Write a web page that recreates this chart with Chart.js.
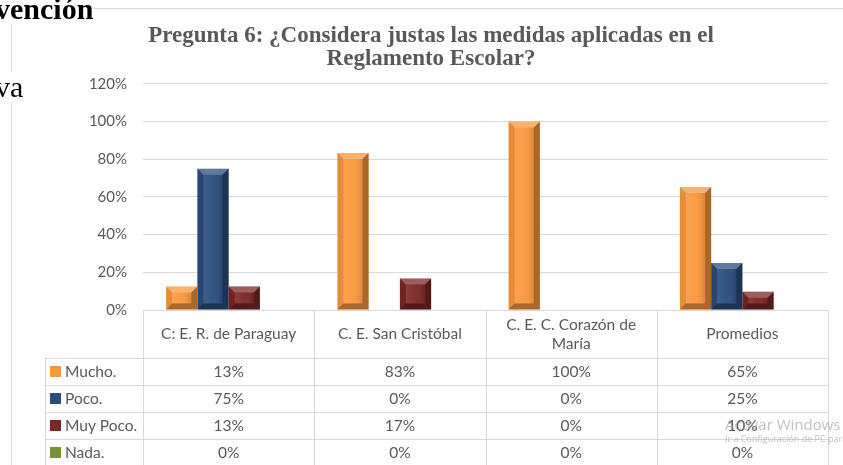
<!DOCTYPE html>
<html>
<head>
<meta charset="utf-8">
<script src="https://cdn.jsdelivr.net/npm/chart.js@4/dist/chart.umd.min.js"></script>
<style>
  html, body { margin: 0; padding: 0; background: #fff; }
  #page { position: relative; width: 843px; height: 465px; overflow: hidden; }
  #frame { position: absolute; left: 11px; top: 8px; width: 900px; height: 500px; border: 1px solid #d9d9d9; }
  #chart { position: absolute; left: 0; top: 0; }
  .doc { position: absolute; font-family: "Liberation Serif", serif; font-size: 30px; line-height: 1; color: #000; background: #fff; }
  .wm { position: absolute; font-family: "Open Sans", sans-serif; color: rgba(140, 140, 140, 0.55); white-space: nowrap; }
</style>
</head>
<body>
<div id="page">
  <div id="frame"></div>
  <canvas id="chart" width="843" height="465"></canvas>
  <span class="doc" style="left:-5px; top:-6px; font-weight:bold;">vención</span>
  <span class="doc" style="left:-5px; top:72px;">va</span>
  <span class="wm" style="left:725px; top:414px; font-size:15px;">Activar Windows</span>
  <span class="wm" style="left:725px; top:432px; font-size:9px;">Ir a Configuración de PC para activar Windows.</span>
</div>
<script>
// datos de la pregunta 6
const categories = ['C: E. R. de Paraguay', 'C. E. San Cristóbal', ['C. E. C. Corazón de', 'María'], 'Promedios'];
const seriesNames = ['Mucho.', 'Poco.', 'Muy Poco.', 'Nada.'];
const mucho = [12.5, 83.33, 100, 65.28];
const poco = [75, 0, 0, 25];
const muyPoco = [12.5, 16.67, 0, 9.72];
const nada = [0, 0, 0, 0];
const yTicks = [0, 20, 40, 60, 80, 100, 120];

const colors = ['#f9983e', '#2c4c7b', '#7a2727', '#77933c'];
const values = [mucho, poco, muyPoco, nada];
const textColor = '#595959';
const lineColor = '#d9d9d9';

// bisel tipo Excel encima de cada barra
const bevelPlugin = {
  id: 'bevel',
  afterDatasetsDraw(chart) {
    const ctx = chart.ctx;
    ctx.save();
    chart.data.datasets.forEach((ds, i) => {
      chart.getDatasetMeta(i).data.forEach(bar => {
        const { x, y, base, width } = bar.getProps(['x', 'y', 'base', 'width'], true);
        const h = base - y;
        if (h < 1) return;
        const l = x - width / 2, r = x + width / 2;
        const b = Math.min(6, h / 2, width / 2);
        const poly = (pts, fill) => {
          ctx.beginPath();
          ctx.moveTo(pts[0][0], pts[0][1]);
          pts.slice(1).forEach(p => ctx.lineTo(p[0], p[1]));
          ctx.closePath();
          ctx.fillStyle = fill;
          ctx.fill();
        };
        const g = ctx.createLinearGradient(l + b, 0, r - b, 0);
        g.addColorStop(0, 'rgba(255,255,255,0.10)');
        g.addColorStop(0.5, 'rgba(255,255,255,0.04)');
        g.addColorStop(1, 'rgba(0,0,0,0.12)');
        ctx.fillStyle = g;
        ctx.fillRect(l + b, y + b, width - 2 * b, h - 2 * b);
        poly([[l, y], [r, y], [r - b, y + b], [l + b, y + b]], 'rgba(255,255,255,0.25)');
        poly([[l, y], [l + b, y + b], [l + b, base - b], [l, base]], 'rgba(0,0,0,0.08)');
        poly([[r, y], [r - b, y + b], [r - b, base - b], [r, base]], 'rgba(0,0,0,0.32)');
        poly([[l, base], [l + b, base - b], [r - b, base - b], [r, base]], 'rgba(0,0,0,0.32)');
      });
    });
    ctx.restore();
  }
};

// tabla de datos bajo el gráfico
const tablePlugin = {
  id: 'dataTable',
  afterDraw(chart) {
    const { ctx, chartArea } = chart;
    const x = chart.scales.x;
    const n = categories.length;
    const colW = (chartArea.right - chartArea.left) / n;
    const top = Math.round(chartArea.bottom) + 0.5;
    const headerH = 47, rowH = 27, legendLeft = 45.5;
    const tableBottom = top + headerH + rowH * seriesNames.length;
    const left = Math.round(chartArea.left) + 0.5;
    const right = Math.round(chartArea.right) + 0.5;

    ctx.save();
    ctx.strokeStyle = lineColor;
    ctx.lineWidth = 1;
    ctx.beginPath();
    ctx.moveTo(left, top); ctx.lineTo(right, top);
    for (let r = 0; r <= seriesNames.length; r++) {
      const yy = Math.round(top + headerH + r * rowH) + 0.5;
      ctx.moveTo(legendLeft, yy); ctx.lineTo(right, yy);
    }
    ctx.moveTo(legendLeft, top + headerH); ctx.lineTo(legendLeft, tableBottom);
    for (let c = 0; c <= n; c++) {
      const xx = Math.round(chartArea.left + c * colW) + 0.5;
      ctx.moveTo(xx, top); ctx.lineTo(xx, tableBottom);
    }
    ctx.stroke();

    ctx.fillStyle = textColor;
    ctx.font = '15.5px Lato';
    ctx.textAlign = 'center';
    ctx.textBaseline = 'middle';
    categories.forEach((cat, c) => {
      const cx = x.getPixelForValue(c);
      const lines = Array.isArray(cat) ? cat : [cat];
      const lh = 19;
      const y0 = top + headerH / 2 - (lines.length - 1) * lh / 2;
      lines.forEach((t, k) => ctx.fillText(t, cx, y0 + k * lh));
    });

    seriesNames.forEach((name, r) => {
      const cy = top + headerH + r * rowH + rowH / 2;
      ctx.fillStyle = colors[r];
      ctx.fillRect(50, cy - 5, 11, 11);
      ctx.fillStyle = textColor;
      ctx.textAlign = 'left';
      ctx.fillText(name, 65, cy + 1);
      ctx.textAlign = 'center';
      values[r].forEach((v, c) => ctx.fillText(Math.round(v) + '%', x.getPixelForValue(c), cy + 1));
    });
    ctx.restore();
  }
};

new Chart(document.getElementById('chart'), {
  type: 'bar',
  data: {
    labels: categories,
    datasets: seriesNames.map((name, i) => ({
      label: name,
      data: values[i],
      backgroundColor: colors[i],
      borderWidth: 0,
      categoryPercentage: 0.73,
      barPercentage: 1
    }))
  },
  options: {
    responsive: false,
    devicePixelRatio: 1,
    animation: false,
    layout: { padding: { left: 34, right: 15, top: 0, bottom: 155 } },
    plugins: {
      legend: { display: false },
      tooltip: { enabled: false },
      title: {
        display: true,
        text: ['Pregunta 6: ¿Considera justas las medidas aplicadas en el', 'Reglamento Escolar?'],
        color: textColor,
        font: { family: "'Liberation Serif', serif", size: 23, weight: 'bold', lineHeight: 1.02 },
        padding: { top: 24, bottom: 13 }
      }
    },
    scales: {
      x: { display: false },
      y: {
        min: 0,
        max: 120,
        afterBuildTicks: s => { s.ticks = yTicks.map(v => ({ value: v })); },
        afterFit: s => { s.width = 109; },
        border: { display: false },
        grid: { color: lineColor, drawTicks: false },
        ticks: {
          color: textColor,
          font: { family: 'Lato', size: 15 },
          padding: 16,
          callback: v => v + '%'
        }
      }
    }
  },
  plugins: [bevelPlugin, tablePlugin]
});
</script>
</body>
</html>
